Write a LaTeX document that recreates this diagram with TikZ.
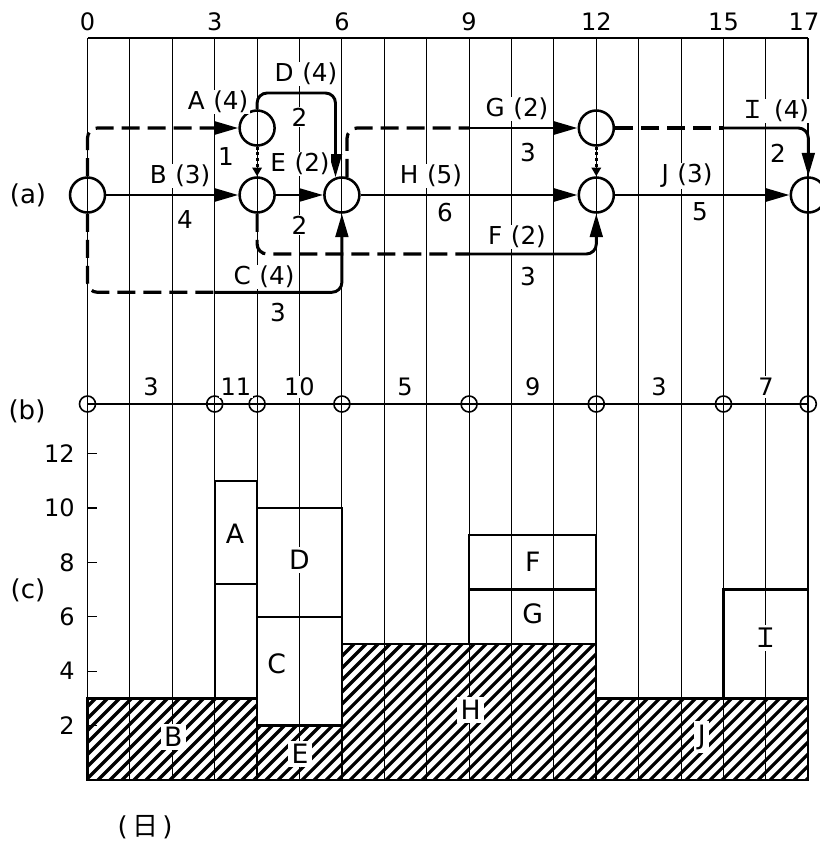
\documentclass[tikz,border=0pt]{standalone}
\usepackage{fontspec}
\setmainfont{DejaVu Sans}
\newfontfamily\cjk{Noto Sans CJK JP}
\usetikzlibrary{arrows.meta}
\newcommand\actlab[2]{#1\hspace{0.35em}(#2)}
\begin{document}
\begin{tikzpicture}[x=0.75pt,y=-0.75pt,
  gridl/.style={line width=0.8pt},
  gridb/.style={line width=1.3pt},
  ev/.style={circle,draw,line width=1.9pt,minimum size=26.25pt,inner sep=0pt},
  bev/.style={circle,draw,line width=1.2pt,minimum size=12pt,inner sep=0pt},
  act/.style={line width=2.2pt,-{Triangle[length=17.5pt,width=9.5pt]}},
  dashp/.style={line width=2.4pt,dash pattern=on 13.5pt off 6pt},
  dummy/.style={line width=2.3pt,dash pattern=on 2.2pt off 2pt,-{Triangle[length=6.5pt,width=7pt]}},
  rc/.style={rounded corners=7.5pt},
  box/.style={line width=1.7pt},
  netlab/.style={fill=white,inner sep=1pt,font=\fontsize{18.5pt}{21pt}\selectfont},
  toplab/.style={inner sep=1pt,font=\fontsize{18pt}{20pt}\selectfont},
  blab/.style={fill=white,inner sep=1.5pt,font=\fontsize{18pt}{20pt}\selectfont},
  ticklab/.style={anchor=east,inner sep=1.5pt,font=\fontsize{18pt}{20pt}\selectfont},
  chartlab/.style={fill=white,inner sep=2.5pt,font=\fontsize{20pt}{22pt}\selectfont},
  rowlab/.style={font=\fontsize{19.5pt}{22pt}\selectfont}
]
\useasboundingbox (0,0) rectangle (819,843);
\fill[white] (0,0) rectangle (819,843);

% grid
\foreach \i in {1,...,16} \draw[gridl] ({87.5+42.4*\i},38) -- ({87.5+42.4*\i},780);
\draw[gridb] (87.5,38) -- (87.5,780);
\draw[gridb] (808.3,38) -- (808.3,780);
\draw[gridl] (87.5,38) -- (808.3,38);

% top axis labels
\node[toplab] (t0) at (87.5,22) {0};
\node[toplab] (t3) at (214.7,22) {3};
\node[toplab] (t6) at (341.9,22) {6};
\node[toplab] (t9) at (469.1,22) {9};
\node[toplab] (t12) at (596.3,22) {12};
\node[toplab] (t15) at (723.5,22) {15};
\node[toplab] (t17) at (804,22) {17};

% (b) row
\foreach \i/\n in {0/b0,3/b3,4/b4,6/b6,9/b9,12/b12,15/b15,17/b17}
  \node[bev] (\n) at ({87.5+42.4*\i},404) {};
\draw[line width=1.1pt] (b0.center) -- (b17.center);
\node[blab] (v1) at (151,387) {3};
\node[blab] (v2) at (236,387) {11};
\node[blab] (v3) at (299.5,387) {10};
\node[blab] (v4) at (405,387) {5};
\node[blab] (v5) at (532.7,387) {9};
\node[blab] (v6) at (659,387) {3};
\node[blab] (v7) at (765.9,387) {7};

% hatching
\begin{scope}
  \clip (87.5,780) rectangle (257.1,698.4)
        (257.1,780) rectangle (341.9,725.6)
        (341.9,780) rectangle (596.3,644)
        (596.3,780) rectangle (808.3,698.4);
  \foreach \k in {-200,-188,...,830} \draw[line width=2.4pt] (\k,790) -- ++(170,-170);
\end{scope}

% chart boxes
\draw[box] (87.5,780) rectangle (257.1,698.4);
\draw[box] (257.1,780) rectangle (341.9,725.6);
\draw[box] (341.9,780) rectangle (596.3,644);
\draw[box] (596.3,780) rectangle (808.3,698.4);
\draw[box] (214.7,698.4) rectangle (257.1,584);
\draw[box] (214.7,584) rectangle (257.1,480.8);
\draw[box] (257.1,725.6) rectangle (341.9,616.8);
\draw[box] (257.1,616.8) rectangle (341.9,508);
\draw[box] (469.1,644) rectangle (596.3,589.6);
\draw[box] (469.1,589.6) rectangle (596.3,535.2);
\draw[box] (723.5,698.4) rectangle (808.3,589.6);

% ticks and tick labels
\foreach \v in {2,4,...,12} {
  \draw[line width=0.9pt] (87.5,{780-27.2*\v}) -- (96.5,{780-27.2*\v});
  \node[ticklab] (tick\v) at (77,{780-27.2*\v}) {\v};
}

% chart labels
\node[chartlab] (cB) at (173.3,737) {B};
\node[chartlab] (cE) at (300,754) {E};
\node[chartlab] (cH) at (470.7,710) {H};
\node[chartlab] (cJ) at (701.7,737) {J};
\node[chartlab] (cC) at (276.7,664) {C};
\node[chartlab] (cD) at (299.5,560) {D};
\node[chartlab] (cA) at (235,534) {A};
\node[chartlab] (cF) at (532.7,562) {F};
\node[chartlab] (cG) at (532.7,614) {G};
\node[chartlab] (cI) at (765.9,638) {\cjk Ｉ};

% network events
\node[ev] (n0) at (87.5,195) {};
\node[ev] (nA) at (257.1,128) {};
\node[ev] (n4) at (257.1,195) {};
\node[ev] (n6) at (341.9,195) {};
\node[ev] (nG) at (596.3,128) {};
\node[ev] (n12) at (596.3,195) {};
\node[ev] (n17) at (808.3,195) {};

\coordinate (a3) at (214.7,128);
\coordinate (c3) at (214.7,292.3);
\coordinate (dy) at (0,93);
\coordinate (dtop) at (n6.110 |- dy);
\coordinate (g9) at (469.1,128);
\coordinate (f9) at (469.1,254);
\coordinate (i15) at (723.5,128);

% activities
\draw[act] (n0) -- (n4);
\draw[act] (n4) -- (n6);
\draw[act] (n6) -- (n12);
\draw[act] (n12) -- (n17);
\draw[dashp,rc] (n0.north) |- (a3);
\draw[act] (a3) -- (nA);
\draw[dashp,rc] (n0.south) |- (c3);
\draw[act,rc] (c3) -| (n6.south);
\draw[act,rc] (nA.north) |- (dtop) -- (n6.110);
\draw[dashp,rc] (n6.74) |- (g9);
\draw[act] (g9) -- (nG);
\draw[dashp,rc] (n4.south) |- (f9);
\draw[act,rc] (f9) -| (n12.south);
\draw[dashp] (nG) -- (i15);
\draw[act,rc] (i15) -| (n17.north);
\draw[dummy] (nA) -- (n4);
\draw[dummy] (nG) -- (n12);

% network labels
\node[netlab] (lD) at (306,74) {\actlab{D}{4}};
\node[netlab] (lD2) at (299.5,117) {2};
\node[netlab] (lA) at (218,102) {\actlab{A}{4}};
\node[netlab] (lA2) at (226,157) {1};
\node[netlab] (lB) at (180,176) {\actlab{B}{3}};
\node[netlab] (lB2) at (185,220) {4};
\node[netlab] (lE) at (300,164) {\actlab{E}{2}};
\node[netlab] (lE2) at (299.5,225) {2};
\node[netlab] (lC) at (264,277) {\actlab{C}{4}};
\node[netlab] (lC2) at (278,313) {3};
\node[netlab] (lH) at (431,176) {\actlab{H}{5}};
\node[netlab] (lH2) at (445,213) {6};
\node[netlab] (lG) at (517,109) {\actlab{G}{2}};
\node[netlab] (lG2) at (528,153) {3};
\node[netlab] (lF) at (517,237) {\actlab{F}{2}};
\node[netlab] (lF2) at (528,277) {3};
\node[netlab] (lJ) at (687,176) {\actlab{J}{3}};
\node[netlab] (lJ2) at (700,212) {5};
\node[netlab] (lI) at (775,111) {\actlab{{\cjk Ｉ}}{4}};
\node[netlab] (lI2) at (778,153) {2};

% row labels
\node[rowlab] (ra) at (28,195) {(a)};
\node[rowlab] (rb) at (27,411) {(b)};
\node[rowlab] (rc) at (28,590) {(c)};
\node[rowlab] (ri) at (145,827) {(\,{\cjk 日}\,)};
\end{tikzpicture}
\end{document}
